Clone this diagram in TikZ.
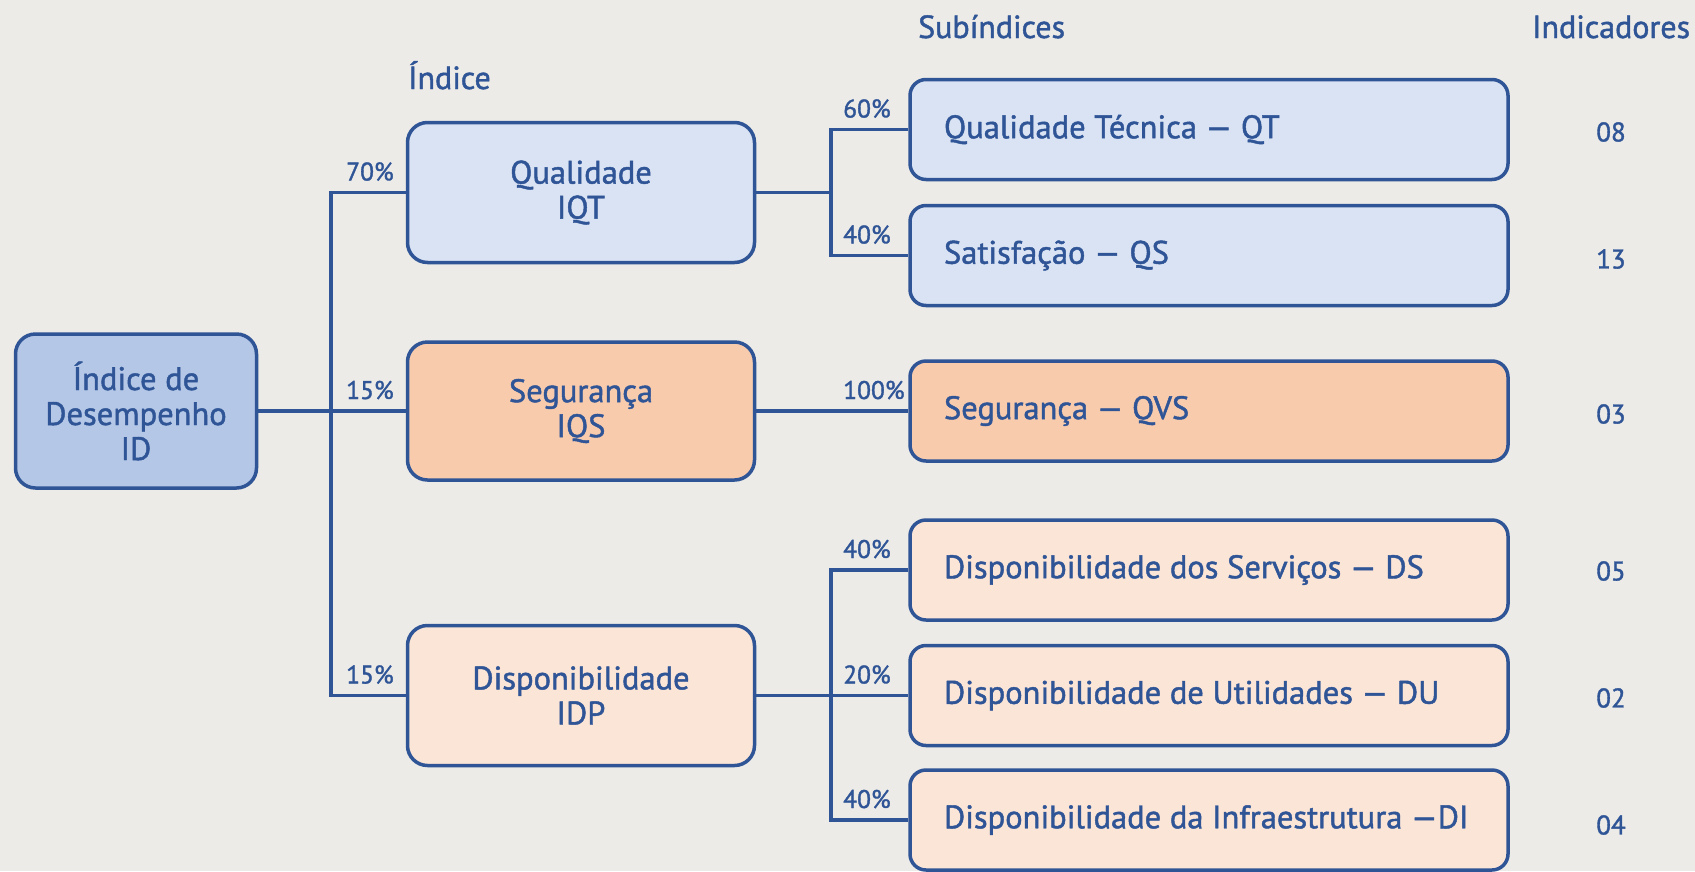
\documentclass[tikz,border=0pt]{standalone}
\usepackage{fontspec}
\setmainfont{PT Sans}[FakeBold=1.4,UprightFeatures={FakeBold=1.4}]
\usetikzlibrary{calc}
\definecolor{bg}{HTML}{EDEBE7}
\definecolor{dblue}{HTML}{2F5597}
\definecolor{fidx}{HTML}{B4C7E7}
\definecolor{fq}{HTML}{DAE3F3}
\definecolor{fs}{HTML}{F8CBAD}
\definecolor{fd}{HTML}{FBE5D6}
\newcommand{\subtxt}[1]{\makebox[530pt][l]{#1}}
\begin{document}
\begin{tikzpicture}[x=1pt,y=-1pt,
  box/.style={draw=dblue,line width=3.5pt,rounded corners=20pt,text=dblue,inner sep=0pt,align=center,font=\fontsize{32.5}{35}\selectfont},
  subbox/.style={draw=dblue,line width=3.5pt,rounded corners=16pt,text=dblue,inner ysep=0pt,inner xsep=34pt,minimum height=100pt,font=\fontsize{32.5}{35}\selectfont},
  conn/.style={draw=dblue,line width=3.5pt},
  pct/.style={text=dblue,inner sep=0pt,anchor=base west,font=\fontsize{25.5}{30}\selectfont},
  hdr/.style={text=dblue,inner sep=0pt,anchor=base west,font=\fontsize{32}{34}\selectfont},
  num/.style={text=dblue,inner sep=0pt,font=\fontsize{27}{30}\selectfont}]
\fill[bg] (0,0) rectangle (1695,871);
\useasboundingbox (0,0) rectangle (1695,871);
% headers
\node[hdr] (hI) at (408,89) {Índice};
\node[hdr] (hS) at (918,38) {Subíndices};
\node[hdr] (hN) at (1532,38) {Indicadores};
% main boxes
\node[box,fill=fidx,minimum width=241pt,minimum height=154pt] (id) at (136,411) {Índice de\\Desempenho\\ID};
\node[box,fill=fq,minimum width=347pt,minimum height=140pt] (iqt) at (581,192.5) {Qualidade\\IQT};
\node[box,fill=fs,minimum width=347pt,minimum height=138pt] (iqs) at (581,411) {Segurança\\IQS};
\node[box,fill=fd,minimum width=347pt,minimum height=140pt] (idp) at (581,695.5) {Disponibilidade\\IDP};
% sub boxes
\node[subbox,fill=fq] (qt) at (1209,129.5) {\subtxt{Qualidade Técnica — QT}};
\node[subbox,fill=fq] (qs) at (1209,255.5) {\subtxt{Satisfação — QS}};
\node[subbox,fill=fs] (qvs) at (1209,411) {\subtxt{Segurança — QVS}};
\node[subbox,fill=fd] (ds) at (1209,570) {\subtxt{Disponibilidade dos Serviços — DS}};
\node[subbox,fill=fd] (du) at (1209,695.5) {\subtxt{Disponibilidade de Utilidades — DU}};
\node[subbox,fill=fd] (di) at (1209,820) {\subtxt{Disponibilidade da Infraestrutura —DI}};
% connectors
\coordinate (j1) at (331,411);
\coordinate (j2) at (831,192.5);
\coordinate (j3) at (831,695.5);
\draw[conn] (iqt.west) -| (j1) |- (idp.west);
\draw[conn] (id.east) -- (iqs.west);
\draw[conn] (iqt.east) -- (j2);
\draw[conn] (qt.west) -| (j2) |- (qs.west);
\draw[conn] (iqs.east) -- (qvs.west);
\draw[conn] (idp.east) -- (du.west);
\draw[conn] (ds.west) -| (j3) |- (di.west);
% percentages
\node[pct] (p70) at (346,180.5) {70\%};
\node[pct] (p15a) at (346,399) {15\%};
\node[pct] (p15b) at (346,683.5) {15\%};
\node[pct] (p60) at (843,117.5) {60\%};
\node[pct] (p40a) at (843,243.5) {40\%};
\node[pct] (p100) at (843,399) {100\%};
\node[pct] (p40b) at (843,558) {40\%};
\node[pct] (p20) at (843,683.5) {20\%};
\node[pct] (p40c) at (843,808) {40\%};
% indicators
\node[num] (n1) at (1611,132) {08};
\node[num] (n2) at (1611,259) {13};
\node[num] (n3) at (1611,414) {03};
\node[num] (n4) at (1611,571) {05};
\node[num] (n5) at (1611,698) {02};
\node[num] (n6) at (1611,825) {04};
\end{tikzpicture}
\end{document}
